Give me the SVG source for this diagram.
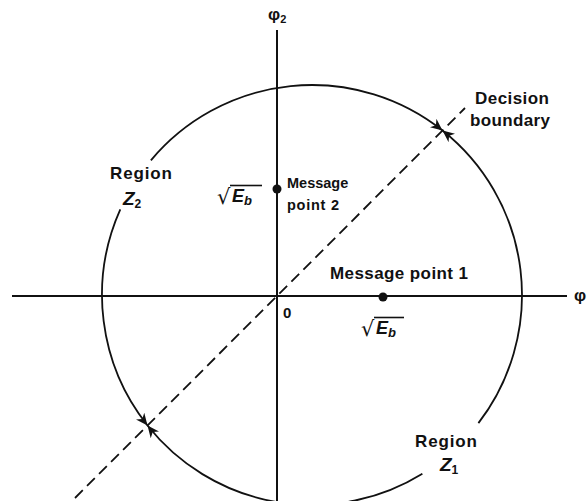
<svg xmlns="http://www.w3.org/2000/svg" width="588" height="501" viewBox="0 0 588 501">
<style>
.ax{stroke:#111;stroke-width:2;fill:none}
.arc{stroke:#111;stroke-width:1.8;fill:none;marker-end:url(#ah)}
.db{stroke:#111;stroke-width:1.8;stroke-dasharray:11 6;fill:none}
.lb{font-family:"Liberation Sans",Arial,sans-serif;font-weight:bold;font-size:17px;fill:#111}
.it{font-style:italic}
.sub{font-size:11px}
.zl{font-size:19px}
.rad{font-family:"DejaVu Sans",sans-serif;font-size:21px;fill:#111}
.ov{stroke:#111;stroke-width:1.6}
.dot{fill:#111}
</style>
<defs>
<marker id="ah" viewBox="0 0 10 10" refX="10" refY="5" markerWidth="12" markerHeight="12" markerUnits="userSpaceOnUse" orient="auto">
<path d="M0,0.5 L10,5 L0,9.5 L3,5 z" fill="#111"/>
</marker>
</defs>
<rect width="588" height="501" fill="#fff"/>
<g id="connectors">
<line class="ax" x1="277" y1="30" x2="277" y2="501"/>
<line class="ax" x1="12" y1="296" x2="567" y2="296"/>
<path class="arc" d="M150.9,160.3 A210,210 0 0 1 442.5,130.5"/>
<path class="arc" d="M478.4,423.1 A210,210 0 0 0 442.5,130.5"/>
<path class="arc" d="M422.4,473.7 A210,210 0 0 1 147.5,425.5"/>
<path class="arc" d="M120.3,209.3 A210,210 0 0 0 147.5,425.5"/>
<line class="db" x1="75" y1="498" x2="465" y2="108"/>
</g>
<g id="axis-labels">
<text class="lb" x="268" y="20">φ<tspan class="sub" dy="3">2</tspan></text>
<text class="lb" x="574" y="301">φ</text>
<text class="lb" x="283" y="318" style="font-size:15px">0</text>
</g>
<g id="message-point-1">
<circle class="dot" cx="383" cy="297" r="4.5"/>
<text class="lb" x="330" y="279" textLength="138" lengthAdjust="spacing">Message point 1</text>
<text class="rad" x="361" y="336">√</text>
<line class="ov" x1="374" y1="317.5" x2="404" y2="317.5"/>
<text class="lb it" x="376" y="334" style="font-size:18px">E<tspan class="sub" dy="3" style="font-size:13px">b</tspan></text>
</g>
<g id="message-point-2">
<circle class="dot" cx="277" cy="189" r="4.5"/>
<text class="lb" x="287" y="188" style="font-size:14.5px">Message</text>
<text class="lb" x="287" y="210" textLength="52" lengthAdjust="spacing" style="font-size:14.5px">point 2</text>
<text class="rad" x="217" y="204">√</text>
<line class="ov" x1="230" y1="185.5" x2="262" y2="185.5"/>
<text class="lb it" x="232" y="202" style="font-size:18px">E<tspan class="sub" dy="3" style="font-size:13px">b</tspan></text>
</g>
<g id="decision-boundary-label">
<text class="lb" x="475" y="104" textLength="74" lengthAdjust="spacing">Decision</text>
<text class="lb" x="470" y="126" textLength="80" lengthAdjust="spacing">boundary</text>
</g>
<g id="region-z2">
<text class="lb" x="110" y="179" textLength="62" lengthAdjust="spacing">Region</text>
<text class="lb it zl" x="123" y="205">Z<tspan class="sub" dy="3" style="font-style:normal;font-size:12px">2</tspan></text>
</g>
<g id="region-z1">
<text class="lb" x="415" y="447" textLength="62" lengthAdjust="spacing">Region</text>
<text class="lb it zl" x="440" y="471">Z<tspan class="sub" dy="3" style="font-style:normal;font-size:12px">1</tspan></text>
</g>
</svg>
